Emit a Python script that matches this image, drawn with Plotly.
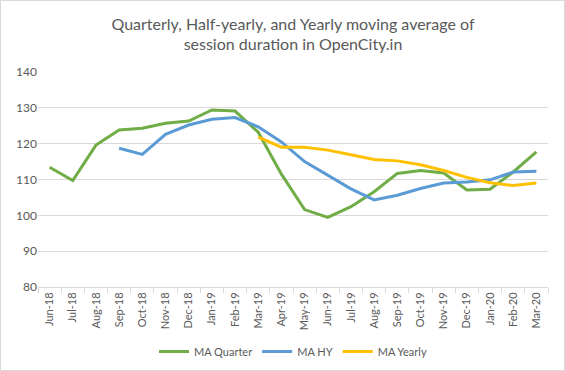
import plotly.graph_objects as go

months = ["Jun-18", "Jul-18", "Aug-18", "Sep-18", "Oct-18", "Nov-18", "Dec-18",
          "Jan-19", "Feb-19", "Mar-19", "Apr-19", "May-19", "Jun-19", "Jul-19",
          "Aug-19", "Sep-19", "Oct-19", "Nov-19", "Dec-19", "Jan-20", "Feb-20", "Mar-20"]

ma_quarter = [113.4, 109.7, 119.6, 123.8, 124.3, 125.7, 126.3, 129.4, 129.1, 123.2,
              111.5, 101.6, 99.4, 102.4, 106.6, 111.7, 112.5, 111.8, 107.1, 107.3, 112.1, 117.7]
ma_hy = [None, None, None, 118.7, 117.0, 122.6, 125.2, 126.8, 127.3, 124.7,
         120.5, 115.0, 111.2, 107.4, 104.3, 105.6, 107.5, 109.0, 109.3, 109.9, 112.1, 112.3]
ma_yearly = [None, None, None, None, None, None, None, None, None, 121.8,
             119.0, 119.0, 118.2, 116.9, 115.6, 115.2, 114.1, 112.5, 110.6, 109.1, 108.3, 109.0]

series = [("MA Quarter", ma_quarter, "#70AD47"),
          ("MA HY", ma_hy, "#5B9BD5"),
          ("MA Yearly", ma_yearly, "#FFC000")]

FONT = "Lato, Carlito, Calibri, sans-serif"

fig = go.Figure()
for name, vals, color in series:
    fig.add_trace(go.Scatter(x=months, y=vals, mode="lines", name=name,
                             line=dict(color=color, width=3)))

fig.update_layout(
    width=565, height=371,
    margin=dict(l=38, r=17, t=72, b=84, autoexpand=False),
    paper_bgcolor="white", plot_bgcolor="white",
    font=dict(family=FONT, color="#595959", size=12),
    title=dict(text="Quarterly, Half-yearly, and Yearly moving average of<br>session duration in OpenCity.in",
               x=0.5, xanchor="center", xref="paper",
               yref="container", y=1 - 29.5 / 371, yanchor="middle", automargin=False,
               font=dict(family=FONT, size=16, color="#595959")),
    showlegend=True,
    legend=dict(orientation="h", x=0.5, xanchor="center", y=-0.30, yanchor="middle",
                font=dict(family=FONT, size=11, color="#595959"),
                itemwidth=30, tracegroupgap=0),
)

fig.update_xaxes(type="category", range=[-0.5, len(months) - 0.5], tickangle=-90,
                 showgrid=False, automargin=False,
                 showline=True, linecolor="#d9d9d9", linewidth=1,
                 ticks="outside", tickson="boundaries", ticklen=5, tickcolor="#d9d9d9",
                 tickfont=dict(family=FONT, size=11, color="#595959"))
fig.update_yaxes(range=[80, 140], dtick=10, showgrid=True, gridcolor="#d9d9d9", gridwidth=1,
                 zeroline=False, showline=False, automargin=False,
                 tickfont=dict(family=FONT, size=12, color="#595959"))

# outer chart border
fig.add_shape(type="rect", xref="paper", yref="paper",
              x0=-37.5 / 510, x1=1 + 16.5 / 510, y0=-83.5 / 215, y1=1 + 71.5 / 215,
              line=dict(color="#d9d9d9", width=1), fillcolor="rgba(0,0,0,0)", layer="below")

fig.write_html("out.html", config={"displayModeBar": False},
               post_script="document.body.style.margin='0';")
